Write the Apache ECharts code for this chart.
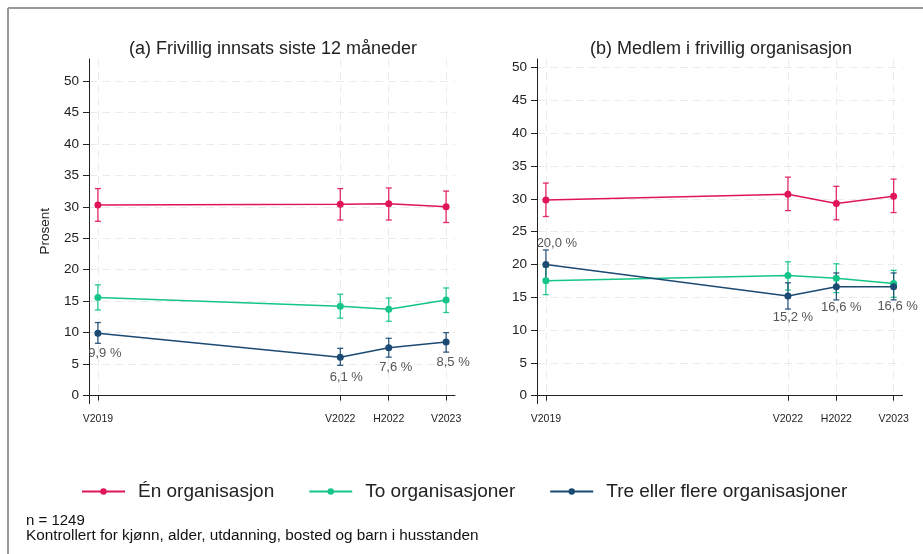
<!DOCTYPE html>
<html>
<head>
<meta charset="utf-8">
<script src="https://cdn.jsdelivr.net/npm/echarts@6/dist/echarts.min.js"></script>
<style>
html,body{margin:0;padding:0;background:#fff;}
#chart{width:923px;height:554px;}
</style>
</head>
<body>
<div id="chart"></div>
<script>
// ---- Data ----
const periodLabels = ['V2019', 'V2022', 'H2022', 'V2023'];
const periodX = [2019.2, 2022.2, 2022.8, 2023.51];
const seriesNames = ['Én organisasjon', 'To organisasjoner', 'Tre eller flere organisasjoner'];
const yTicks = [0, 5, 10, 15, 20, 25, 30, 35, 40, 45, 50];

// Panel (a): Frivillig innsats siste 12 måneder
const aOne = [30.3, 30.4, 30.5, 30.0];
const aOneLo = [27.7, 27.9, 27.9, 27.5];
const aOneHi = [32.9, 32.9, 33.0, 32.5];
const aTwo = [15.6, 14.2, 13.7, 15.2];
const aTwoLo = [13.6, 12.3, 11.8, 13.2];
const aTwoHi = [17.6, 16.1, 15.5, 17.1];
const aThree = [9.9, 6.1, 7.6, 8.5];
const aThreeLo = [8.3, 4.8, 6.1, 6.9];
const aThreeHi = [11.6, 7.5, 9.1, 10.0];

// Panel (b): Medlem i frivillig organisasjon
const bOne = [29.8, 30.7, 29.3, 30.4];
const bOneLo = [27.3, 28.2, 26.8, 27.9];
const bOneHi = [32.4, 33.3, 31.9, 33.0];
const bTwo = [17.5, 18.3, 17.9, 17.1];
const bTwoLo = [15.4, 16.1, 15.7, 15.0];
const bTwoHi = [19.6, 20.4, 20.1, 19.1];
const bThree = [20.0, 15.2, 16.6, 16.6];
const bThreeLo = [17.8, 13.2, 14.6, 14.6];
const bThreeHi = [22.2, 17.2, 18.7, 18.7];

// ---- Styling ----
const colors = ['#e0145a', '#14c587', '#1b4a73'];
const FONT = 'Liberation Sans, Arial, sans-serif';

function fmtPct(v) { return v.toFixed(1).replace('.', ',') + ' %'; }

function errSeries(name, gridIdx, lo, hi, color) {
  return {
    type: 'custom', name: name, xAxisIndex: gridIdx, yAxisIndex: gridIdx,
    z: 2,
    data: periodX.map((x, i) => [x, lo[i], hi[i]]),
    renderItem: function (params, api) {
      const x = api.value(0);
      const p1 = api.coord([x, api.value(2)]);
      const p2 = api.coord([x, api.value(1)]);
      const w = 3;
      const st = { stroke: color, lineWidth: 1.3, opacity: 0.9 };
      return {
        type: 'group', children: [
          { type: 'line', shape: { x1: p1[0], y1: p1[1], x2: p2[0], y2: p2[1] }, style: st },
          { type: 'line', shape: { x1: p1[0] - w, y1: p1[1], x2: p1[0] + w, y2: p1[1] }, style: st },
          { type: 'line', shape: { x1: p2[0] - w, y1: p2[1], x2: p2[0] + w, y2: p2[1] }, style: st }
        ]
      };
    },
    encode: { x: 0, y: [1, 2] },
    silent: true
  };
}

function lineSeries(name, gridIdx, vals, color, labelPos) {
  return {
    type: 'line', name: name, xAxisIndex: gridIdx, yAxisIndex: gridIdx,
    z: 3,
    symbol: 'circle', symbolSize: 7,
    lineStyle: { color: color, width: 1.5 },
    itemStyle: { color: color },
    data: periodX.map((x, i) => {
      const item = { value: [x, vals[i]] };
      if (labelPos) {
        const lp = labelPos[i];
        item.label = {
          show: true, position: lp.pos, distance: lp.dist, offset: lp.off,
          formatter: p => fmtPct(p.value[1]),
          color: '#555', fontSize: 13, fontFamily: FONT
        };
      }
      return item;
    }),
    emphasis: { disabled: true }
  };
}

function xAxisCfg(gridIdx) {
  return {
    type: 'value', gridIndex: gridIdx, min: 2019.09, max: 2023.62,
    axisLine: { show: true, lineStyle: { color: '#222', width: 1 } },
    axisTick: { show: true, customValues: periodX, length: 5, lineStyle: { color: '#222' } },
    axisLabel: {
      customValues: periodX, margin: 10, fontSize: 10.5, color: '#222', fontFamily: FONT,
      formatter: v => { const i = periodX.findIndex(p => Math.abs(p - v) < 1e-6); return i >= 0 ? periodLabels[i] : ''; }
    },
    splitLine: { show: true, lineStyle: { color: '#ebebeb', type: [8, 5], width: 1 } }
  };
}

function yAxisCfg(gridIdx, min, max, name) {
  return {
    type: 'value', gridIndex: gridIdx, min: min, max: max,
    name: name || '', nameLocation: 'middle', nameGap: 37,
    nameTextStyle: { fontSize: 13.5, color: '#222', fontFamily: FONT },
    axisLine: { show: true, lineStyle: { color: '#222', width: 1 } },
    axisTick: { show: true, customValues: yTicks, length: 6, lineStyle: { color: '#222' } },
    axisLabel: { customValues: yTicks, margin: 10, fontSize: 13.5, color: '#222', fontFamily: FONT },
    splitLine: { show: true, lineStyle: { color: '#ebebeb', type: [8, 5], width: 1 } }
  };
}

const labA = [
  { pos: 'bottom', dist: 10, off: [7, 0] },
  { pos: 'bottom', dist: 10, off: [6, 0] },
  { pos: 'bottom', dist: 10, off: [7, 0] },
  { pos: 'bottom', dist: 10, off: [7, 0] }
];
const labB = [
  { pos: 'top', dist: 11, off: [11, 0] },
  { pos: 'bottom', dist: 11, off: [5, 0] },
  { pos: 'bottom', dist: 11, off: [5, 0] },
  { pos: 'bottom', dist: 10, off: [4, 0] }
];

const chart = echarts.init(document.getElementById('chart'), null, { renderer: 'canvas' });
chart.setOption({
  animation: false,
  backgroundColor: '#fff',
  textStyle: { fontFamily: FONT },
  title: [
    { text: '(a) Frivillig innsats siste 12 måneder', left: 268, top: 35, textAlign: 'center',
      textStyle: { fontSize: 18, fontWeight: 'normal', color: '#222', fontFamily: FONT } },
    { text: '(b) Medlem i frivillig organisasjon', left: 716, top: 35, textAlign: 'center',
      textStyle: { fontSize: 18, fontWeight: 'normal', color: '#222', fontFamily: FONT } }
  ],
  legend: {
    data: seriesNames, left: 76, top: 477, itemGap: 34, itemWidth: 43, itemHeight: 8,
    textStyle: { fontSize: 19, color: '#222', fontFamily: FONT, padding: [0, 0, 0, 8] }
  },
  grid: [
    { left: 89, top: 59, width: 366, height: 344.7, containLabel: false },
    { left: 537, top: 59, width: 365.5, height: 344.7, containLabel: false }
  ],
  xAxis: [xAxisCfg(0), xAxisCfg(1)],
  yAxis: [yAxisCfg(0, -1.3, 53.5, 'Prosent'), yAxisCfg(1, -1.22, 51.3)],
  graphic: [
    { type: 'line', shape: { x1: 8, y1: 8, x2: 8, y2: 554 }, style: { stroke: '#999', lineWidth: 2 } },
    { type: 'line', shape: { x1: 8, y1: 8, x2: 923, y2: 8 }, style: { stroke: '#999', lineWidth: 2 } },
    { type: 'text', left: 26, top: 513, style: { text: 'n = 1249', fontSize: 15, fill: '#111', fontFamily: FONT } },
    { type: 'text', left: 26, top: 528, style: { text: 'Kontrollert for kjønn, alder, utdanning, bosted og barn i husstanden', fontSize: 15.3, fill: '#111', fontFamily: FONT } }
  ],
  series: [
    errSeries('errA1', 0, aOneLo, aOneHi, colors[0]),
    errSeries('errA2', 0, aTwoLo, aTwoHi, colors[1]),
    errSeries('errA3', 0, aThreeLo, aThreeHi, colors[2]),
    lineSeries(seriesNames[0], 0, aOne, colors[0]),
    lineSeries(seriesNames[1], 0, aTwo, colors[1]),
    lineSeries(seriesNames[2], 0, aThree, colors[2], labA),
    errSeries('errB1', 1, bOneLo, bOneHi, colors[0]),
    errSeries('errB2', 1, bTwoLo, bTwoHi, colors[1]),
    errSeries('errB3', 1, bThreeLo, bThreeHi, colors[2]),
    lineSeries(seriesNames[0], 1, bOne, colors[0]),
    lineSeries(seriesNames[1], 1, bTwo, colors[1]),
    lineSeries(seriesNames[2], 1, bThree, colors[2], labB)
  ]
});
</script>
</body>
</html>
